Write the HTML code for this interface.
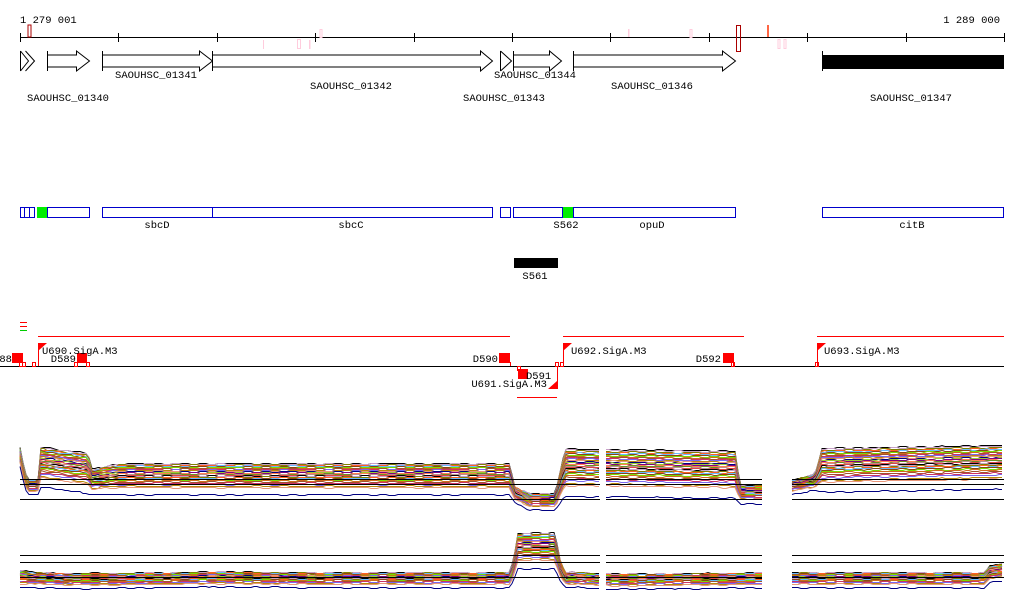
<!DOCTYPE html>
<html><head><meta charset="utf-8"><style>
html,body{margin:0;padding:0;background:#fff;}
svg{display:block;font-family:"Liberation Mono","DejaVu Sans Mono",monospace;font-size:10.5px;}
</style></head><body>
<svg id="chart" width="1024" height="611" viewBox="0 0 1024 611" xmlns="http://www.w3.org/2000/svg">
<g id="axis"></g>
<g id="marks">
<rect x="28" y="25" width="3" height="12" fill="none" stroke="#a00"/>
<rect x="263" y="40" width="1" height="9" fill="#fcd"/>
<rect x="297.5" y="39.5" width="3" height="9" fill="none" stroke="#fcd"/>
<rect x="309" y="40" width="1.5" height="9" fill="#fcd"/>
<rect x="320" y="29.5" width="2" height="8" fill="none" stroke="#fcd"/>
<rect x="628" y="29" width="1.5" height="8" fill="#fcd"/>
<rect x="690" y="29.5" width="2" height="8" fill="none" stroke="#fcd"/>
<rect x="736.5" y="25.5" width="4" height="26" fill="none" stroke="#a00"/>
<rect x="767" y="25" width="2" height="12" fill="#f64"/>
<rect x="778" y="39.5" width="2" height="9" fill="none" stroke="#fcd"/>
<rect x="784" y="39.5" width="2" height="9" fill="none" stroke="#fcd"/>
</g>
<g id="genes" fill="#fff" stroke="#000" stroke-width="1">
<path d="M20.5 51v20M20.5 51l8 10-8 10M25.5 51l9 10-9 10"/>
<path d="M47.5 51v20M47.5 55h29v-4l13 10-13 10v-4h-29z"/>
<path d="M102.5 51v20M102.5 55h97v-4l13 10-13 10v-4h-97z"/>
<path d="M212.5 51v20M212.5 55h268v-4l12 10-12 10v-4h-268z"/>
<path d="M500.5 51v20M500.5 51l11 10-11 10"/>
<path d="M513.5 51v20M513.5 55h36v-4l12 10-12 10v-4h-36z"/>
<path d="M573.5 51v20M573.5 55h149v-4l13 10-13 10v-4h-149z"/>
<path d="M822.5 51v20"/>
<rect x="822" y="55" width="182" height="14" fill="#000" stroke="none"/>
</g>
<g fill="#000" text-anchor="middle">
<text x="68" y="101">SAOUHSC_01340</text>
<text x="156" y="78">SAOUHSC_01341</text>
<text x="351" y="89">SAOUHSC_01342</text>
<text x="504" y="101">SAOUHSC_01343</text>
<text x="535" y="78">SAOUHSC_01344</text>
<text x="652" y="89">SAOUHSC_01346</text>
<text x="911" y="101">SAOUHSC_01347</text>
</g>
<g stroke="#00c" fill="#fff">
<rect x="20.5" y="207.5" width="14" height="10"/>
<line x1="24.5" y1="208" x2="24.5" y2="217"/>
<line x1="29.5" y1="208" x2="29.5" y2="217"/>
<rect x="37.5" y="207.5" width="10" height="10" fill="#0e0" stroke="#0e0"/>
<rect x="47.5" y="207.5" width="42" height="10"/>
<rect x="102.5" y="207.5" width="110" height="10"/>
<rect x="212.5" y="207.5" width="280" height="10"/>
<rect x="500.5" y="207.5" width="10" height="10"/>
<rect x="513.5" y="207.5" width="49" height="10"/>
<rect x="563.5" y="207.5" width="9" height="10" fill="#0e0" stroke="#0e0"/>
<rect x="573.5" y="207.5" width="162" height="10"/>
<rect x="822.5" y="207.5" width="181" height="10"/>
</g>
<g fill="#000" text-anchor="middle">
<text x="157" y="228">sbcD</text>
<text x="351" y="228">sbcC</text>
<text x="566" y="228">S562</text>
<text x="652" y="228">opuD</text>
<text x="912" y="228">citB</text>
<rect x="514" y="258" width="44" height="10" fill="#000"/>
<text x="535" y="279">S561</text>
</g>
<g>
<line x1="20" y1="322.5" x2="27" y2="322.5" stroke="#f00"/>
<line x1="20" y1="326.5" x2="27" y2="326.5" stroke="#f00"/>
<line x1="20" y1="330.5" x2="27" y2="330.5" stroke="#0c0"/>
<g stroke="#f00">
<line x1="38" y1="336.5" x2="510" y2="336.5"/>
<line x1="563" y1="336.5" x2="744" y2="336.5"/>
<line x1="817" y1="336.5" x2="1004" y2="336.5"/>
<line x1="517" y1="397.5" x2="557" y2="397.5"/>
</g>
<line x1="0" y1="366.5" x2="1004" y2="366.5" stroke="#000"/>
<g fill="#f00" stroke="none">
<rect x="12" y="353" width="11" height="10"/>
<rect x="77" y="353" width="10" height="10"/>
<rect x="499" y="353" width="11" height="10"/>
<rect x="518" y="369" width="10" height="10"/>
<rect x="723" y="353" width="11" height="10"/>
<path d="M38 343h9l-9 8z"/>
<path d="M563 343h9l-9 8z"/>
<path d="M817 343h9l-9 8z"/>
<path d="M557 381v8h-9z"/>
</g>
<g stroke="#f00" fill="none">
<path d="M38.5 343v23M563.5 343v23M817.5 343v23M557.5 366v23M510.5 362v4M733.5 362v4"/>
<rect x="19.5" y="362.5" width="3" height="4"/>
<rect x="22.5" y="362.5" width="3" height="4"/>
<rect x="32.5" y="362.5" width="3" height="4"/>
<rect x="74.5" y="362.5" width="3" height="4"/>
<rect x="86.5" y="362.5" width="3" height="4"/>
<rect x="517.5" y="366.5" width="3" height="4"/>
<rect x="555.5" y="362.5" width="3" height="4"/>
<rect x="560.5" y="362.5" width="3" height="4"/>
<rect x="731.5" y="362.5" width="3" height="4"/>
<rect x="815.5" y="362.5" width="3" height="4"/>
</g>
<g fill="#000">
<text x="12" y="362" text-anchor="end">D588</text>
<text x="42" y="354">U690.SigA.M3</text>
<text x="76" y="362" text-anchor="end">D589</text>
<text x="498" y="362" text-anchor="end">D590</text>
<text x="526" y="379">D591</text>
<text x="547" y="387" text-anchor="end">U691.SigA.M3</text>
<text x="571" y="354">U692.SigA.M3</text>
<text x="721" y="362" text-anchor="end">D592</text>
<text x="824" y="354">U693.SigA.M3</text>
</g>
</g>
<g id="expr"></g>
</svg>
<script>
// Axis ticks (bp offsets from 1 279 001)
const tickPos = [0,1000,2000,3000,4000,5000,6000,7000,8000,9000,9999];
// Panel 1 profile: genome position (bp offset) and level
const prof1Pos = [0,51,81,183,203,691,732,1000,4980,5020,5183,5440,5539,7266,7317,7541,7846,8080,8150,10000];
const prof1Val = [9.3,6.0,5.0,5.0,8.3,7.4,5.9,6.4,6.4,4.0,2.9,2.9,7.6,7.3,4.0,4.0,5.0,5.7,7.9,8.3];
const prof1Spread = [1.0,0.9,0.8,0.8,2.2,2.2,1.4,1.7,1.7,0.9,0.9,0.9,2.6,2.6,1.0,1.0,0.8,0.9,2.4,2.4];
// Panel 2 profile
const prof2Pos = [0,200,500,1000,2000,3000,4000,4980,5020,5060,5440,5480,5540,5600,6000,7000,8000,8500,9500,9800,9850,10000];
const prof2Val = [2.0,1.8,1.7,1.7,1.9,1.8,1.8,1.8,3.5,6.2,6.2,3.5,1.8,1.9,1.6,1.7,1.8,1.8,1.8,1.8,2.6,3.0];
const prof2Spread = [0.9,0.8,0.8,0.8,0.8,0.8,0.8,0.8,1.2,1.9,1.9,1.2,0.8,0.8,0.8,0.8,0.8,0.8,0.8,0.8,0.9,0.9];
// Series offsets (relative) and hand-read wiggle
const seriesOffset = [1.0,0.95,0.88,0.82,0.78,0.72,0.66,0.6,0.55,0.5,0.45,0.4,0.35,0.3,0.25,0.2,0.15,0.1,0.05,0,-0.05,-0.1,-0.15,-0.2,-0.25,-0.3,-0.38,-0.45,-0.55,-0.65,-0.75,-0.9,-1.0,-1.6];
const wiggle = [0.1,-0.15,0.2,0.05,-0.1,0.15,-0.2,0.0,0.12,-0.05,0.18,-0.12,0.08,-0.18,0.03,0.14,-0.08];
const colors = ['#000','#c8a0c8','#808000','#ff6020','#66bbff','#8b4513','#77dd00','#d2691e','#a0522d','#cc3366','#7b68ee','#b8860b','#e9967a','#000080','#9acd32','#800080','#ff7f50','#6b8e23','#bc8f8f','#dd4444'];
const refLines1 = [5.9, 5.1, 3.0];
const refLines2 = [5.0, 4.0, 2.0];

const NS='http://www.w3.org/2000/svg';
const xOf = p => 20 + p*0.0984;
function mk(tag, attrs, parent){const e=document.createElementNS(NS,tag);for(const k in attrs)e.setAttribute(k,attrs[k]);parent.appendChild(e);return e;}

const axis=document.getElementById('axis');
let al=mk('line',{x1:20,y1:37.5,x2:1004,y2:37.5,stroke:'#000'},axis);


tickPos.forEach(p=>{
  const t=mk('line',{x1:Math.round(xOf(p))+0.5,y1:33,x2:Math.round(xOf(p))+0.5,y2:42,stroke:'#000'},axis);
  
  
});
let t1=mk('text',{x:20,y:23},axis);t1.textContent='1 279 001';


let t2=mk('text',{x:1000,y:23,'text-anchor':'end'},axis);t2.textContent='1 289 000';



const expr=document.getElementById('expr');
const segments=[[20,600],[606,762],[792,1004]];
function drawPanel(pos, val, spread, yBase, yScale, refs){
  const px = pos.map(p=>xOf(p));
  function at(arr,x){
    for(let i=0;i<px.length-1;i++){ if(x<=px[i+1]){const f=(x-px[i])/((px[i+1]-px[i])||1);return arr[i]+(arr[i+1]-arr[i])*f;} }
    return arr[arr.length-1];
  }
  const g=mk('g',{},expr);
  
  
  seriesOffset.forEach((off,si)=>{
    segments.forEach(([a,b])=>{
      let d='';
      for(let x=a;x<=b;x+=3){
        const w=wiggle[(Math.floor(x/9)+si*3)%wiggle.length];
        const v=at(val,x)+off*at(spread,x)+w*0.4;
        const y=Math.round(yBase - v*yScale)+0.5;
        d+=(d?'L':'M')+x+' '+y;
      }
      const pth=mk('path',{d:d,fill:'none',stroke:colors[si%colors.length],'stroke-width':1},g);
      
      
    });
  });
  refs.forEach(r=>{
    segments.forEach(([a,b])=>{
      const y=Math.round(yBase - r*yScale)+0.5;
      const l=mk('line',{x1:a,y1:y,x2:b,y2:y,stroke:'#000'},g);
      
      
    });
  });
}
drawPanel(prof1Pos,prof1Val,prof1Spread,520,7,refLines1);
drawPanel(prof2Pos,prof2Val,prof2Spread,591,7.2,refLines2);
</script>
</body></html>
